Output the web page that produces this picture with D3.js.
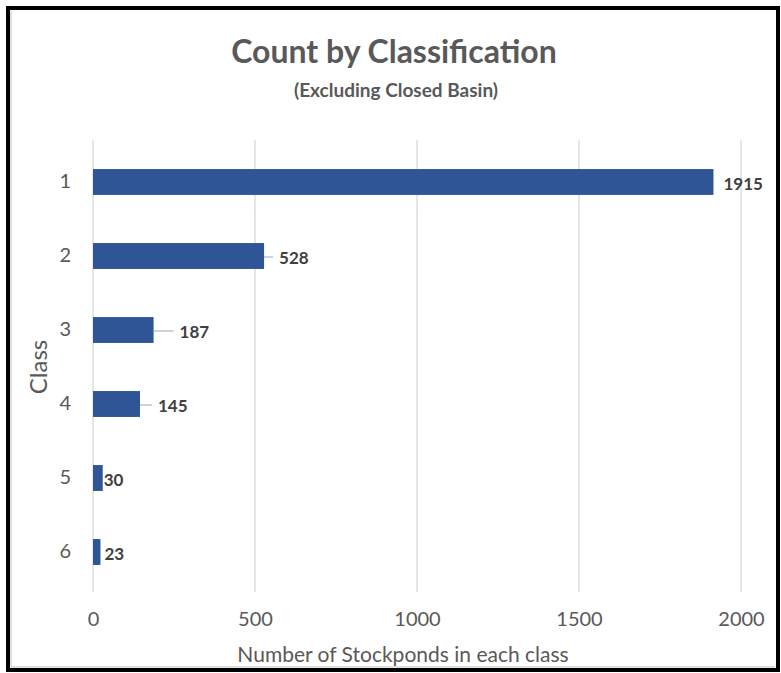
<!DOCTYPE html>
<html>
<head>
<meta charset="utf-8">
<script src="https://cdn.jsdelivr.net/npm/d3@7"></script>
<style>
  body { margin: 0; background: #fff; }
  text { font-family: Lato, "Open Sans", sans-serif; }
</style>
</head>
<body>
<svg width="781" height="673"></svg>
<script>
const classes = ['1', '2', '3', '4', '5', '6']
const counts = [1915, 528, 187, 145, 30, 23]
const xTicks = [0, 500, 1000, 1500, 2000]

// how far each data label sits past its bar end (Excel callouts were dragged)
const labelGap = [10, 15, 26, 18, 1, 4]

const data = classes.map((c, i) => ({ cls: c, count: counts[i], gap: labelGap[i] }))

const svg = d3.select('svg')

// frame
svg.append('rect')
  .attr('x', 8).attr('y', 8).attr('width', 770).attr('height', 662)
  .attr('fill', 'none').attr('stroke', '#000').attr('stroke-width', 4)
svg.append('path')
  .attr('d', 'M11,11 V667 H775')
  .attr('fill', 'none').attr('stroke', '#bfbfbf').attr('stroke-width', 1)

const margin = { top: 145, bottom: 84, left: 93, right: 40 }
const innerWidth = 741 - margin.left
const innerHeight = 589 - margin.top

const xScale = d3.scaleLinear().domain([0, 2000]).range([0, innerWidth])
const yScale = d3.scaleBand().domain(classes).range([0, innerHeight]).paddingInner(0.65).paddingOuter(0.325)
const midY = d => yScale(d.cls) + yScale.bandwidth() / 2

const g = svg.append('g').attr('transform', `translate(${margin.left},${margin.top})`)

// gridlines
g.selectAll('.grid').data(xTicks).enter().append('line')
  .attr('x1', d => xScale(d)).attr('x2', d => xScale(d))
  .attr('y1', -5).attr('y2', innerHeight + 3)
  .attr('stroke', '#d9d9d9').attr('stroke-width', 1.3)

const xAxis = d3.axisBottom(xScale).tickValues(xTicks).tickFormat(d3.format('d')).tickSize(0).tickPadding(39)
const xAxisG = g.append('g').attr('transform', `translate(0,${innerHeight})`).call(xAxis)
  .attr('font-size', 20).attr('font-family', 'Lato, sans-serif')
xAxisG.select('.domain').remove()
xAxisG.selectAll('text')
  .attr('dy', '-0.1em')
  .attr('fill', '#595959')

const yAxis = d3.axisLeft(yScale).tickSize(0).tickPadding(22)
const yAxisG = g.append('g').call(yAxis)
  .attr('font-size', 20).attr('font-family', 'Lato, sans-serif')
yAxisG.select('.domain').remove()
yAxisG.selectAll('text')
  .attr('fill', '#595959')

// bars
g.selectAll('rect.bar').data(data).enter().append('rect')
  .attr('class', 'bar')
  .attr('x', 0)
  .attr('y', d => yScale(d.cls))
  .attr('width', d => xScale(d.count))
  .attr('height', yScale.bandwidth())
  .attr('fill', '#2f5597')

// leader lines
g.selectAll('line.leader').data(data.filter(d => d.gap > 12)).enter().append('line')
  .attr('class', 'leader')
  .attr('x1', d => xScale(d.count))
  .attr('x2', d => xScale(d.count) + d.gap - 6)
  .attr('y1', d => midY(d) + 1)
  .attr('y2', d => midY(d) + 1)
  .attr('stroke', '#a6a6a6').attr('stroke-width', 1)

// data labels
g.selectAll('text.lbl').data(data).enter().append('text')
  .attr('class', 'lbl')
  .attr('x', d => xScale(d.count) + d.gap)
  .attr('y', d => midY(d) + 8)
  .attr('font-size', 17).attr('font-weight', 'bold').attr('fill', '#404040')
  .text(d => d.count)

// titles
svg.append('text')
  .attr('x', 394).attr('y', 63).attr('text-anchor', 'middle')
  .attr('font-size', 32).attr('font-weight', 'bold').attr('fill', '#595959')
  .text('Count by Classification')
svg.append('text')
  .attr('x', 396).attr('y', 97).attr('text-anchor', 'middle')
  .attr('font-size', 19).attr('font-weight', 'bold').attr('fill', '#595959')
  .text('(Excluding Closed Basin)')

svg.append('text')
  .attr('x', 403).attr('y', 662).attr('text-anchor', 'middle')
  .attr('font-size', 21).attr('fill', '#595959')
  .text('Number of Stockponds in each class')

svg.append('text')
  .attr('transform', 'translate(47,367) rotate(-90)')
  .attr('text-anchor', 'middle')
  .attr('font-size', 24).attr('fill', '#595959')
  .text('Class')
</script>
</body>
</html>
